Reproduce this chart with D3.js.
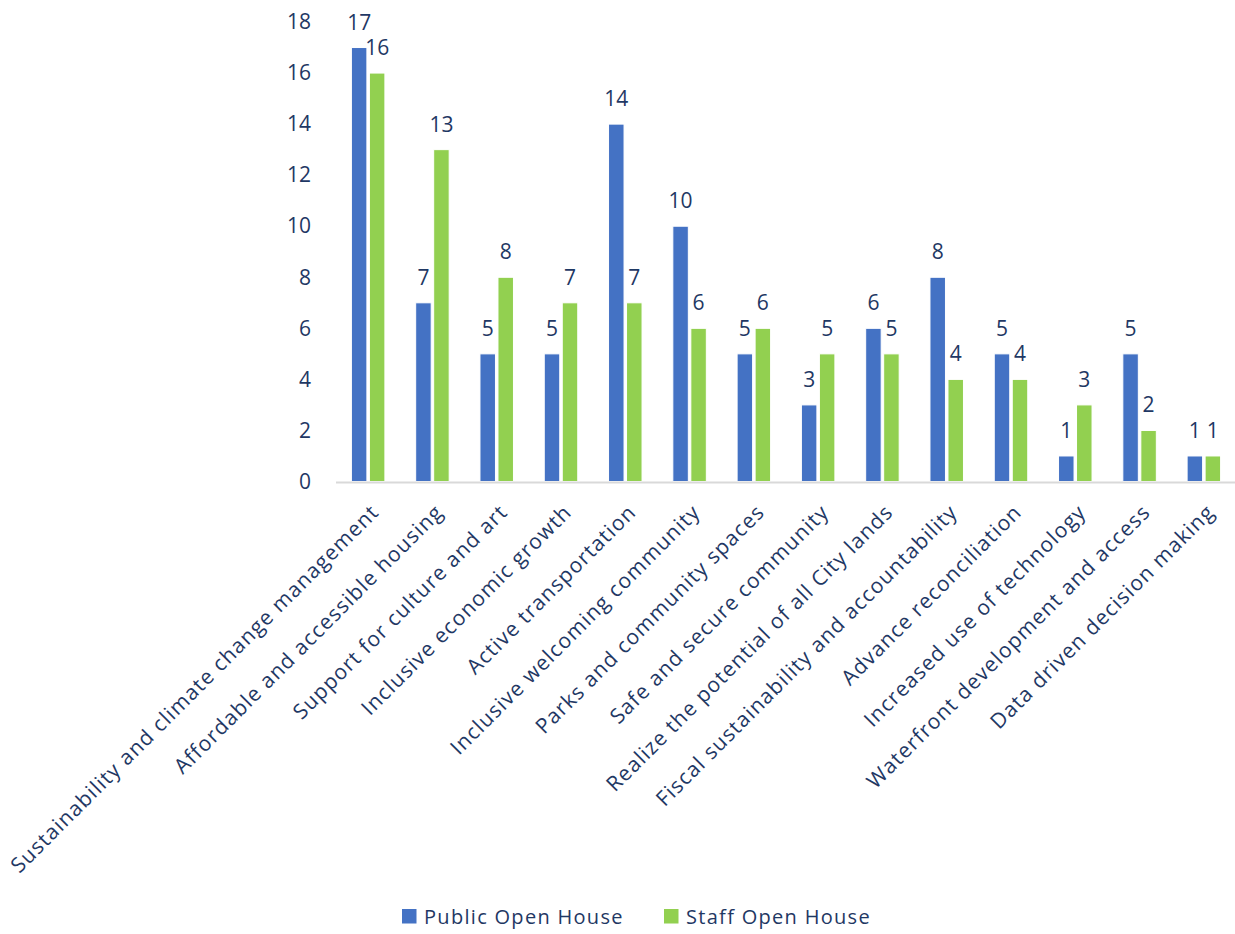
<!DOCTYPE html>
<html>
<head>
<meta charset="utf-8">
<script src="https://cdn.jsdelivr.net/npm/d3@7"></script>
<style>
  html, body { margin: 0; padding: 0; background: #fff; }
  svg { display: block; font-family: "Open Sans", "Noto Sans", sans-serif; }
</style>
</head>
<body>
<svg id="chart" width="1235" height="934"></svg>
<script>
const categories = [
  "Sustainability and climate change management",
  "Affordable and accessible housing",
  "Support for culture and art",
  "Inclusive economic growth",
  "Active transportation",
  "Inclusive welcoming community",
  "Parks and community spaces",
  "Safe and secure community",
  "Realize the potential of all City lands",
  "Fiscal sustainability and accountability",
  "Advance reconciliation",
  "Increased use of technology",
  "Waterfront development and access",
  "Data driven decision making"
];
const publicOpenHouse = [17, 7, 5, 5, 14, 10, 5, 3, 6, 8, 5, 1, 5, 1];
const staffOpenHouse  = [16, 13, 8, 7, 7, 6, 6, 5, 5, 4, 4, 3, 2, 1];
const seriesNames = ["Public Open House", "Staff Open House"];
const seriesColors = ["#4472C4", "#92D050"];
const yTicks = [0, 2, 4, 6, 8, 10, 12, 14, 16, 18];

const textColor = "#1F3864";
const fontStack = "\"Open Sans\", \"Noto Sans\", sans-serif";
const svg = d3.select("#chart");

const plot = { left: 336, right: 1236, top: 22, bottom: 481.5 };

const x = d3.scaleBand().domain(categories).range([plot.left, plot.right]).paddingInner(0).paddingOuter(0);
const y = d3.scaleLinear().domain([0, 18]).range([plot.bottom, plot.top]);

const barW = 15.5, barGap = 2.5;
const groups = seriesNames.map((name, i) => ({
  name, color: seriesColors[i], values: i === 0 ? publicOpenHouse : staffOpenHouse, offset: i === 0 ? -(barW + barGap / 2) : barGap / 2
}));

// y axis tick labels (no line, no gridlines)
const yAxis = d3.axisLeft(y).tickValues(yTicks).tickSize(0).tickPadding(0);
const yG = svg.append("g").attr("transform", `translate(${plot.left - 25},0)`).call(yAxis);
yG.select(".domain").remove();
yG.selectAll("text")
  .attr("fill", textColor).attr("font-size", 21).attr("text-anchor", "end")
  .attr("font-family", fontStack);

// bars with value labels
groups.forEach(g => {
  svg.append("g").selectAll("rect").data(g.values).join("rect")
    .attr("x", (d, i) => x(categories[i]) + x.bandwidth() / 2 + g.offset)
    .attr("y", d => y(d))
    .attr("width", barW)
    .attr("height", d => y(0) - y(d))
    .attr("fill", g.color)
    .attr("stroke", "#fff").attr("stroke-width", 1);

  svg.append("g").selectAll("text").data(g.values).join("text")
    .attr("x", (d, i) => x(categories[i]) + x.bandwidth() / 2 + g.offset + barW / 2)
    .attr("y", d => y(d) - 18)
    .attr("text-anchor", "middle")
    .attr("fill", textColor).attr("font-size", 21)
    .text(d => d);
});

// x axis baseline
svg.append("line")
  .attr("x1", plot.left).attr("x2", plot.right)
  .attr("y1", y(0) + 1).attr("y2", y(0) + 1)
  .attr("stroke", "#D9D9D9").attr("stroke-width", 2);

// rotated category labels
const xAxis = d3.axisBottom(x).tickSize(0).tickPadding(0);
const xG = svg.append("g").attr("transform", `translate(0,${plot.bottom})`).call(xAxis);
xG.select(".domain").remove();
xG.selectAll("text")
  .attr("fill", textColor).attr("font-size", 21)
  .attr("font-family", fontStack)
  .attr("letter-spacing", 1.1)
  .attr("text-anchor", "end")
  .attr("dy", null).attr("y", 0)
  .attr("transform", "translate(12,32) rotate(-45)");

// legend
const legend = svg.append("g").attr("transform", "translate(402,909)");
const legendX = [0, 262];
seriesNames.forEach((name, i) => {
  const item = legend.append("g").attr("transform", `translate(${legendX[i]},0)`);
  item.append("rect").attr("width", 14.5).attr("height", 14.5).attr("fill", seriesColors[i]);
  item.append("text").attr("x", 22).attr("y", 14.5).attr("fill", textColor)
    .attr("font-size", 20).attr("letter-spacing", 1.3).text(name);
});
</script>
</body>
</html>
